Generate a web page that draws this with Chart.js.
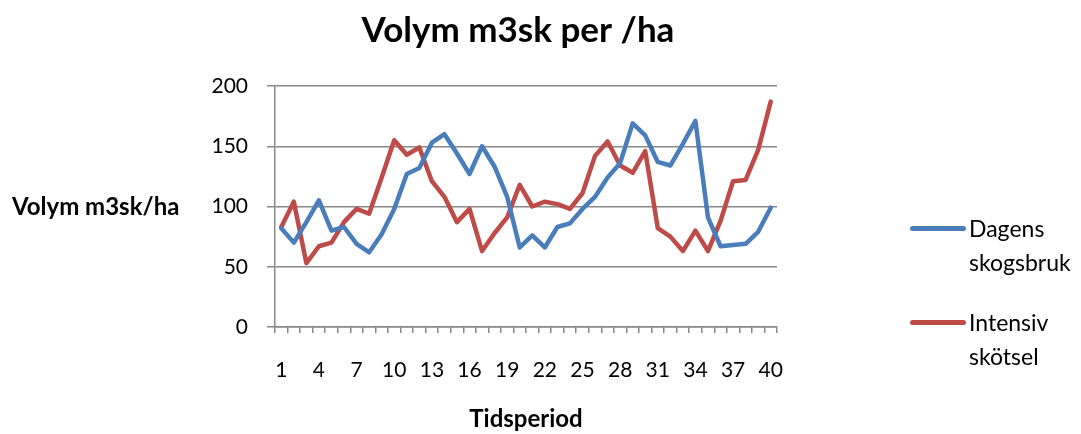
<!DOCTYPE html>
<html>
<head>
<meta charset="utf-8">
<script src="https://cdn.jsdelivr.net/npm/chart.js@4.4.1/dist/chart.umd.min.js"></script>
<style>
  html, body { margin: 0; padding: 0; background: #fff; }
  #wrap { position: relative; width: 1081px; height: 434px; }
  #legend { position: absolute; left: 910px; top: 211px; font-family: Lato, sans-serif; font-size: 23px; color: #000; }
  .item { display: flex; align-items: flex-start; margin-bottom: 26px; }
  .swatch { width: 56px; height: 5px; border-radius: 3px; margin-top: 15px; margin-right: 3px; }
  .txt { line-height: 34px; }
</style>
</head>
<body>
<div id="wrap">
  <canvas id="grafico" width="1081" height="434"></canvas>
  <div id="legend"></div>
</div>
<script>
// kategorier (tidsperioder)
const perioder = [];
for (let i = 1; i <= 40; i++) perioder.push(String(i));

const dagensSkogsbruk = [82, 70, 87, 105, 80, 83, 69, 62, 77, 98,
  127, 132, 153, 160, 144, 127, 150, 133, 108, 66,
  76, 66, 83, 86, 98, 108, 124, 136, 169, 159,
  137, 134, 152, 171, 91, 67, 68, 69, 79, 99];

const intensivSkotsel = [83, 104, 53, 67, 70, 87, 98, 94, 124, 155,
  143, 149, 121, 108, 87, 98, 63, 78, 91, 118,
  100, 104, 102, 98, 111, 142, 154, 134, 128, 146,
  82, 75, 63, 80, 63, 88, 121, 122, 147, 187];

const yTicks = [0, 50, 100, 150, 200];

const serier = [
  { namn: ['Dagens', 'skogsbruk'], data: dagensSkogsbruk, farg: '#4a7ebb' },
  { namn: ['Intensiv', 'skötsel'], data: intensivSkotsel, farg: '#be4b48' }
];

const font = 'Lato, sans-serif';

// diagramtitel och y-axelns titel (ligger horisontellt till vänster)
const texter = {
  id: 'texter',
  afterDraw(chart) {
    const ctx = chart.ctx;
    ctx.save();
    ctx.fillStyle = '#000';
    ctx.textBaseline = 'middle';
    ctx.textAlign = 'center';
    ctx.font = 'bold 35px ' + font;
    ctx.fillText('Volym m3sk per /ha', 518, 31);
    ctx.textAlign = 'left';
    ctx.font = 'bold 24px ' + font;
    ctx.fillText('Volym m3sk/ha', 12, chart.scales.y.getPixelForValue(100) + 1);
    ctx.restore();
  }
};

const ctx = document.getElementById('grafico').getContext('2d');
new Chart(ctx, {
  type: 'line',
  data: {
    labels: perioder,
    datasets: serier.map(s => ({
      label: s.namn.join(' '),
      data: s.data,
      borderColor: s.farg,
      backgroundColor: s.farg,
      borderWidth: 4.5,
      pointRadius: 0,
      tension: 0,
      borderJoinStyle: 'round',
      borderCapStyle: 'round'
    }))
  },
  options: {
    responsive: false,
    animation: false,
    layout: { padding: { top: 86, right: 304, bottom: 0, left: 0 } },
    plugins: {
      legend: { display: false },
      tooltip: { enabled: false },
      title: { display: false }
    },
    scales: {
      x: {
        offset: true,
        afterFit(scale) { scale.height = 107; },
        grid: { offset: true, drawOnChartArea: false, color: '#888', tickLength: 6, lineWidth: 1.5 },
        border: { color: '#888', width: 1.5 },
        ticks: {
          autoSkip: false,
          maxRotation: 0,
          padding: 25,
          color: '#000',
          font: { family: font, size: 21 },
          callback: (v, i) => (i % 3 === 0 ? perioder[i] : '')
        },
        title: {
          display: true,
          text: 'Tidsperiod',
          color: '#000',
          font: { family: font, size: 24, weight: 'bold' },
          padding: { top: 0, bottom: 0 }
        }
      },
      y: {
        min: 0,
        max: 200,
        afterFit(scale) { scale.width = 275; },
        afterBuildTicks(scale) { scale.ticks = yTicks.map(v => ({ value: v })); },
        grid: { color: '#888', tickLength: 8, lineWidth: 1.5 },
        border: { color: '#888', width: 1.5 },
        ticks: {
          padding: 19,
          color: '#000',
          font: { family: font, size: 21 }
        }
      }
    }
  },
  plugins: [texter]
});

// förklaring till höger, radbruten som i originalet
const legend = document.getElementById('legend');
serier.forEach(s => {
  const item = document.createElement('div');
  item.className = 'item';
  item.innerHTML = '<div class="swatch" style="background:' + s.farg + '"></div>' +
    '<div class="txt">' + s.namn.join('<br>') + '</div>';
  legend.appendChild(item);
});
</script>
</body>
</html>
